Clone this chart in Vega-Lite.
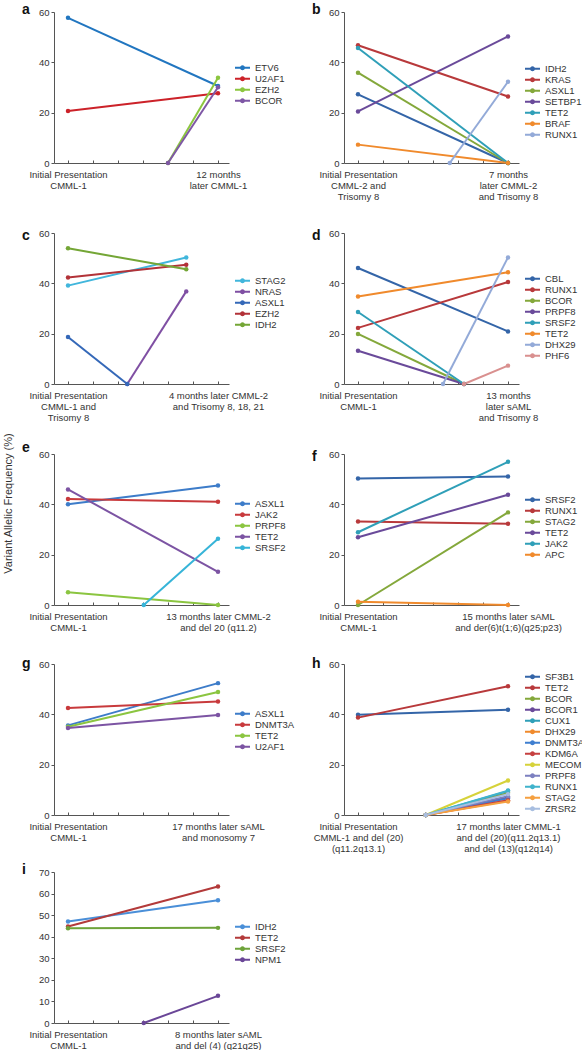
{
 "$schema": "https://vega.github.io/schema/vega-lite/v6.json",
 "padding": {"left": 1, "top": 3, "right": 0, "bottom": 0},
 "data": {"values": [
  {"p":"a","g":"ETV6","x":0,"y":57.7},{"p":"a","g":"ETV6","x":6,"y":30.6},
  {"p":"a","g":"U2AF1","x":0,"y":20.7},{"p":"a","g":"U2AF1","x":6,"y":27.7},
  {"p":"a","g":"EZH2","x":4,"y":0},{"p":"a","g":"EZH2","x":6,"y":33.9},
  {"p":"a","g":"BCOR","x":4,"y":0},{"p":"a","g":"BCOR","x":6,"y":30.1},
  {"p":"b","g":"IDH2","x":0,"y":27.3},{"p":"b","g":"IDH2","x":6,"y":0},
  {"p":"b","g":"KRAS","x":0,"y":46.8},{"p":"b","g":"KRAS","x":6,"y":26.4},
  {"p":"b","g":"ASXL1","x":0,"y":35.9},{"p":"b","g":"ASXL1","x":6,"y":0},
  {"p":"b","g":"SETBP1","x":0,"y":20.5},{"p":"b","g":"SETBP1","x":6,"y":50.3},
  {"p":"b","g":"TET2","x":0,"y":45.7},{"p":"b","g":"TET2","x":6,"y":0},
  {"p":"b","g":"BRAF","x":0,"y":7.3},{"p":"b","g":"BRAF","x":6,"y":0},
  {"p":"b","g":"RUNX1","x":3.67,"y":0},{"p":"b","g":"RUNX1","x":6,"y":32.3},
  {"p":"c","g":"STAG2","x":0,"y":39.1},{"p":"c","g":"STAG2","x":4.73,"y":50.3},
  {"p":"c","g":"NRAS","x":2.37,"y":0},{"p":"c","g":"NRAS","x":4.73,"y":36.8},
  {"p":"c","g":"ASXL1","x":0,"y":18.7},{"p":"c","g":"ASXL1","x":2.37,"y":0},
  {"p":"c","g":"EZH2","x":0,"y":42.3},{"p":"c","g":"EZH2","x":4.73,"y":47.4},
  {"p":"c","g":"IDH2","x":0,"y":53.9},{"p":"c","g":"IDH2","x":4.73,"y":45.6},
  {"p":"d","g":"CBL","x":0,"y":46.1},{"p":"d","g":"CBL","x":6,"y":20.9},
  {"p":"d","g":"RUNX1","x":0,"y":22.3},{"p":"d","g":"RUNX1","x":6,"y":40.5},
  {"p":"d","g":"BCOR","x":0,"y":19.9},{"p":"d","g":"BCOR","x":4.24,"y":0},
  {"p":"d","g":"PRPF8","x":0,"y":13.2},{"p":"d","g":"PRPF8","x":4.24,"y":0},
  {"p":"d","g":"SRSF2","x":0,"y":28.6},{"p":"d","g":"SRSF2","x":4.24,"y":0},
  {"p":"d","g":"TET2","x":0,"y":34.8},{"p":"d","g":"TET2","x":6,"y":44.4},
  {"p":"d","g":"DHX29","x":3.4,"y":0},{"p":"d","g":"DHX29","x":6,"y":50.3},
  {"p":"d","g":"PHF6","x":4.24,"y":0},{"p":"d","g":"PHF6","x":6,"y":7.3},
  {"p":"e","g":"ASXL1","x":0,"y":40.0},{"p":"e","g":"ASXL1","x":6,"y":47.5},
  {"p":"e","g":"JAK2","x":0,"y":42.1},{"p":"e","g":"JAK2","x":6,"y":41.0},
  {"p":"e","g":"PRPF8","x":0,"y":5.1},{"p":"e","g":"PRPF8","x":6,"y":0},
  {"p":"e","g":"TET2","x":0,"y":45.9},{"p":"e","g":"TET2","x":6,"y":13.2},
  {"p":"e","g":"SRSF2","x":3.03,"y":0},{"p":"e","g":"SRSF2","x":6,"y":26.3},
  {"p":"f","g":"SRSF2","x":0,"y":50.3},{"p":"f","g":"SRSF2","x":6,"y":51.1},
  {"p":"f","g":"RUNX1","x":0,"y":33.2},{"p":"f","g":"RUNX1","x":6,"y":32.3},
  {"p":"f","g":"STAG2","x":0,"y":0},{"p":"f","g":"STAG2","x":6,"y":36.8},
  {"p":"f","g":"TET2","x":0,"y":26.9},{"p":"f","g":"TET2","x":6,"y":43.8},
  {"p":"f","g":"JAK2","x":0,"y":28.9},{"p":"f","g":"JAK2","x":6,"y":56.9},
  {"p":"f","g":"APC","x":0,"y":1.3},{"p":"f","g":"APC","x":6,"y":0},
  {"p":"g","g":"ASXL1","x":0,"y":35.6},{"p":"g","g":"ASXL1","x":6,"y":52.4},
  {"p":"g","g":"DNMT3A","x":0,"y":42.5},{"p":"g","g":"DNMT3A","x":6,"y":45.1},
  {"p":"g","g":"TET2","x":0,"y":35.1},{"p":"g","g":"TET2","x":6,"y":48.9},
  {"p":"g","g":"U2AF1","x":0,"y":34.6},{"p":"g","g":"U2AF1","x":6,"y":39.7},
  {"p":"h","g":"SF3B1","x":0,"y":39.8},{"p":"h","g":"SF3B1","x":6,"y":41.8},
  {"p":"h","g":"TET2","x":0,"y":38.7},{"p":"h","g":"TET2","x":6,"y":51.2},
  {"p":"h","g":"BCOR","x":2.71,"y":0},{"p":"h","g":"BCOR","x":6,"y":8.8},
  {"p":"h","g":"BCOR1","x":2.71,"y":0},{"p":"h","g":"BCOR1","x":6,"y":7.0},
  {"p":"h","g":"CUX1","x":2.71,"y":0},{"p":"h","g":"CUX1","x":6,"y":9.5},
  {"p":"h","g":"DHX29","x":2.71,"y":0},{"p":"h","g":"DHX29","x":6,"y":5.7},
  {"p":"h","g":"DNMT3A","x":2.71,"y":0},{"p":"h","g":"DNMT3A","x":6,"y":6.6},
  {"p":"h","g":"KDM6A","x":2.71,"y":0},{"p":"h","g":"KDM6A","x":6,"y":5.9},
  {"p":"h","g":"MECOM","x":2.71,"y":0},{"p":"h","g":"MECOM","x":6,"y":13.7},
  {"p":"h","g":"PRPF8","x":2.71,"y":0},{"p":"h","g":"PRPF8","x":6,"y":7.5},
  {"p":"h","g":"RUNX1","x":2.71,"y":0},{"p":"h","g":"RUNX1","x":6,"y":9.7},
  {"p":"h","g":"STAG2","x":2.71,"y":0},{"p":"h","g":"STAG2","x":6,"y":5.4},
  {"p":"h","g":"ZRSR2","x":2.71,"y":0},{"p":"h","g":"ZRSR2","x":6,"y":8.3},
  {"p":"i","g":"IDH2","x":0,"y":47.1},{"p":"i","g":"IDH2","x":6,"y":56.9},
  {"p":"i","g":"TET2","x":0,"y":44.7},{"p":"i","g":"TET2","x":6,"y":63.3},
  {"p":"i","g":"SRSF2","x":0,"y":43.9},{"p":"i","g":"SRSF2","x":6,"y":44.1},
  {"p":"i","g":"NPM1","x":3.03,"y":0},{"p":"i","g":"NPM1","x":6,"y":12.6}
 ]},
 "columns": 2,
 "spacing": {"row": 57, "column": 115},
 "bounds": "flush",
 "align": "each",
 "resolve": {"scale": {"color": "independent", "x": "independent", "y": "independent"}, "legend": {"color": "independent"}},
 "config": {
  "view": {"stroke": null},
  "font": "Liberation Sans",
  "axis": {"grid": false, "labelFont": "Liberation Sans", "labelFontSize": 9.5, "labelColor": "#333", "domainColor": "#555", "tickColor": "#555", "title": null},
  "axisX": {"values": [0,1,2,3,4,5,6], "tickSize": -3, "labelPadding": 9, "labelLineHeight": 11, "labelOverlap": false, "labelFlush": false, "labelAlign": "center", "labelBaseline": "top"},
  "axisY": {"tickSize": 3, "labelPadding": 2},
  "legend": {"labelFont": "Liberation Sans", "labelFontSize": 9.5, "labelColor": "#333", "rowPadding": 0, "clipHeight": 9.3, "symbolType": "M-1,0H1M-0.2,0A0.2,0.2,0,1,1,0.2,0A0.2,0.2,0,1,1,-0.2,0Z", "symbolSize": 225, "symbolStrokeWidth": 2, "labelOffset": 4, "orient": "none", "legendX": 180, "padding": 0, "title": null},
  "title": {"fontSize": 14, "fontWeight": "bold", "font": "Liberation Sans", "anchor": "start", "frame": "group", "dx": -32, "color": "#111", "baseline": "alphabetic", "offset": 1},
  "line": {"strokeWidth": 2},
  "point": {"size": 20, "filled": true}
 },
 "concat": [
  {
   "width": 175, "height": 151,
   "title": {"text": "a", "dy": 11},
   "transform": [{"filter": "datum.p == 'a'"}],
   "mark": {"type": "line", "point": {"filled": true, "size": 20}},
   "encoding": {
    "x": {"field": "x", "type": "quantitative", "scale": {"domain": [-0.56, 6.44], "nice": false, "zero": false}, "axis": {"labelExpr": "datum.value == 0 ? ['Initial Presentation', 'CMML-1'] : datum.value == 6 ? ['12 months', 'later CMML-1'] : ''"}},
    "y": {"field": "y", "type": "quantitative", "scale": {"domain": [0, 60], "nice": false}, "axis": {"values": [0, 20, 40, 60]}},
    "color": {"field": "g", "type": "nominal", "scale": {"domain": ["ETV6","U2AF1","EZH2","BCOR"], "range": ["#2176c0","#cc2229","#8cc63f","#7e57a5"]}, "legend": {"legendY": 51}}
   }
  },
  {
   "width": 175, "height": 151,
   "title": {"text": "b", "dy": 11},
   "transform": [{"filter": "datum.p == 'b'"}],
   "mark": {"type": "line", "point": {"filled": true, "size": 20}},
   "encoding": {
    "x": {"field": "x", "type": "quantitative", "scale": {"domain": [-0.56, 6.44], "nice": false, "zero": false}, "axis": {"labelExpr": "datum.value == 0 ? ['Initial Presentation', 'CMML-2 and', 'Trisomy 8'] : datum.value == 6 ? ['7 months', 'later CMML-2', 'and Trisomy 8'] : ''"}},
    "y": {"field": "y", "type": "quantitative", "scale": {"domain": [0, 60], "nice": false}, "axis": {"values": [0, 20, 40, 60]}},
    "color": {"field": "g", "type": "nominal", "scale": {"domain": ["IDH2","KRAS","ASXL1","SETBP1","TET2","BRAF","RUNX1"], "range": ["#3465a8","#b8393b","#84a83b","#6a4a9a","#2f9fb8","#f08a2c","#93aad8"]}, "legend": {"legendY": 52}}
   }
  },
  {
   "width": 175, "height": 164,
   "title": {"text": "c", "dy": 24},
   "transform": [{"filter": "datum.p == 'c'"}],
   "mark": {"type": "line", "point": {"filled": true, "size": 20}},
   "encoding": {
    "x": {"field": "x", "type": "quantitative", "scale": {"domain": [-0.56, 6.44], "nice": false, "zero": false}, "axis": {"labelExpr": "datum.value == 0 ? ['Initial Presentation', 'CMML-1  and', 'Trisomy 8'] : datum.value == 6 ? ['4 months later CMML-2', 'and Trisomy 8, 18, 21'] : ''"}},
    "y": {"field": "y", "type": "quantitative", "scale": {"domain": [0, 60], "nice": false, "range": [164, 13]}, "axis": {"values": [0, 20, 40, 60]}},
    "color": {"field": "g", "type": "nominal", "scale": {"domain": ["STAG2","NRAS","ASXL1","EZH2","IDH2"], "range": ["#41b6dc","#7f4fa3","#3468b8","#b23238","#74a636"]}, "legend": {"legendY": 56}}
   }
  },
  {
   "width": 175, "height": 164,
   "title": {"text": "d", "dy": 24},
   "transform": [{"filter": "datum.p == 'd'"}],
   "mark": {"type": "line", "point": {"filled": true, "size": 20}},
   "encoding": {
    "x": {"field": "x", "type": "quantitative", "scale": {"domain": [-0.56, 6.44], "nice": false, "zero": false}, "axis": {"labelExpr": "datum.value == 0 ? ['Initial Presentation', 'CMML-1'] : datum.value == 6 ? ['13 months', 'later sAML', 'and Trisomy 8'] : ''"}},
    "y": {"field": "y", "type": "quantitative", "scale": {"domain": [0, 60], "nice": false, "range": [164, 13]}, "axis": {"values": [0, 20, 40, 60]}},
    "color": {"field": "g", "type": "nominal", "scale": {"domain": ["CBL","RUNX1","BCOR","PRPF8","SRSF2","TET2","DHX29","PHF6"], "range": ["#3465a8","#b8393b","#84a83b","#6a4a9a","#2f9fb8","#f08a2c","#93aad8","#d9908f"]}, "legend": {"legendY": 54}}
   }
  },
  {
   "width": 175, "height": 164,
   "title": {"text": "e", "dy": 24},
   "transform": [{"filter": "datum.p == 'e'"}],
   "mark": {"type": "line", "point": {"filled": true, "size": 20}},
   "encoding": {
    "x": {"field": "x", "type": "quantitative", "scale": {"domain": [-0.56, 6.44], "nice": false, "zero": false}, "axis": {"labelExpr": "datum.value == 0 ? ['Initial Presentation', 'CMML-1'] : datum.value == 6 ? ['13 months later CMML-2', 'and del 20 (q11.2)'] : ''"}},
    "y": {"field": "y", "type": "quantitative", "scale": {"domain": [0, 60], "nice": false, "range": [164, 13]}, "axis": {"values": [0, 20, 40, 60], "title": "Variant Allelic Frequency (%)", "titleX": -41, "titleY": 62, "titleFontSize": 11, "titleFontWeight": "normal", "titleColor": "#333", "titleFont": "Liberation Sans", "titleAngle": -90, "titleBaseline": "bottom", "titleAlign": "center"}},
    "color": {"field": "g", "type": "nominal", "scale": {"domain": ["ASXL1","JAK2","PRPF8","TET2","SRSF2"], "range": ["#3d7cc9","#c83a3c","#8bc540","#7c54a3","#36b4d8"]}, "legend": {"legendY": 58}}
   }
  },
  {
   "width": 175, "height": 164,
   "title": {"text": "f", "dy": 24},
   "transform": [{"filter": "datum.p == 'f'"}],
   "mark": {"type": "line", "point": {"filled": true, "size": 20}},
   "encoding": {
    "x": {"field": "x", "type": "quantitative", "scale": {"domain": [-0.56, 6.44], "nice": false, "zero": false}, "axis": {"labelExpr": "datum.value == 0 ? ['Initial Presentation', 'CMML-1'] : datum.value == 6 ? ['15 months later sAML', 'and der(6)t(1;6)(q25;p23)'] : ''"}},
    "y": {"field": "y", "type": "quantitative", "scale": {"domain": [0, 60], "nice": false, "range": [164, 13]}, "axis": {"values": [0, 20, 40, 60]}},
    "color": {"field": "g", "type": "nominal", "scale": {"domain": ["SRSF2","RUNX1","STAG2","TET2","JAK2","APC"], "range": ["#3465a8","#b8393b","#84a83b","#6a4a9a","#2f9fb8","#f08a2c"]}, "legend": {"legendY": 54}}
   }
  },
  {
   "width": 175, "height": 153,
   "title": {"text": "g", "dy": 13},
   "transform": [{"filter": "datum.p == 'g'"}],
   "mark": {"type": "line", "point": {"filled": true, "size": 20}},
   "encoding": {
    "x": {"field": "x", "type": "quantitative", "scale": {"domain": [-0.56, 6.44], "nice": false, "zero": false}, "axis": {"labelExpr": "datum.value == 0 ? ['Initial Presentation', 'CMML-1'] : datum.value == 6 ? ['17 months later sAML', 'and monosomy 7'] : ''"}},
    "y": {"field": "y", "type": "quantitative", "scale": {"domain": [0, 60], "nice": false, "range": [153, 2]}, "axis": {"values": [0, 20, 40, 60]}},
    "color": {"field": "g", "type": "nominal", "scale": {"domain": ["ASXL1","DNMT3A","TET2","U2AF1"], "range": ["#3d7cc9","#c83a3c","#8bc540","#7c54a3"]}, "legend": {"legendY": 47}}
   }
  },
  {
   "width": 175, "height": 153,
   "title": {"text": "h", "dy": 13},
   "transform": [{"filter": "datum.p == 'h'"}],
   "mark": {"type": "line", "point": {"filled": true, "size": 20}},
   "encoding": {
    "x": {"field": "x", "type": "quantitative", "scale": {"domain": [-0.56, 6.44], "nice": false, "zero": false}, "axis": {"labelExpr": "datum.value == 0 ? ['Initial Presentation', 'CMML-1 and del (20)', '(q11.2q13.1)'] : datum.value == 6 ? ['17 months later CMML-1', 'and del (20)(q11.2q13.1)', 'and del (13)(q12q14)'] : ''"}},
    "y": {"field": "y", "type": "quantitative", "scale": {"domain": [0, 60], "nice": false, "range": [153, 2]}, "axis": {"values": [0, 20, 40, 60]}},
    "color": {"field": "g", "type": "nominal", "scale": {"domain": ["SF3B1","TET2","BCOR","BCOR1","CUX1","DHX29","DNMT3A","KDM6A","MECOM","PRPF8","RUNX1","STAG2","ZRSR2"], "range": ["#3465a8","#b8393b","#84a83b","#6a4a9a","#2f9fb8","#f08a2c","#3f7fd0","#c64040","#d6d23a","#7c80c0","#40b3cc","#f5a040","#a8bee0"]}, "legend": {"legendY": 10}}
   }
  },
  {
   "width": 175, "height": 151,
   "title": {"text": "i", "dy": 11},
   "transform": [{"filter": "datum.p == 'i'"}],
   "mark": {"type": "line", "point": {"filled": true, "size": 20}},
   "encoding": {
    "x": {"field": "x", "type": "quantitative", "scale": {"domain": [-0.56, 6.44], "nice": false, "zero": false}, "axis": {"labelExpr": "datum.value == 0 ? ['Initial Presentation', 'CMML-1'] : datum.value == 6 ? ['8 months later sAML', 'and del (4) (q21q25)'] : ''"}},
    "y": {"field": "y", "type": "quantitative", "scale": {"domain": [0, 70], "nice": false}, "axis": {"values": [0, 10, 20, 30, 40, 50, 60, 70]}},
    "color": {"field": "g", "type": "nominal", "scale": {"domain": ["IDH2","TET2","SRSF2","NPM1"], "range": ["#4a8fd8","#b33a3a","#6ea33a","#6a4697"]}, "legend": {"legendY": 50}}
   }
  }
 ]
}
